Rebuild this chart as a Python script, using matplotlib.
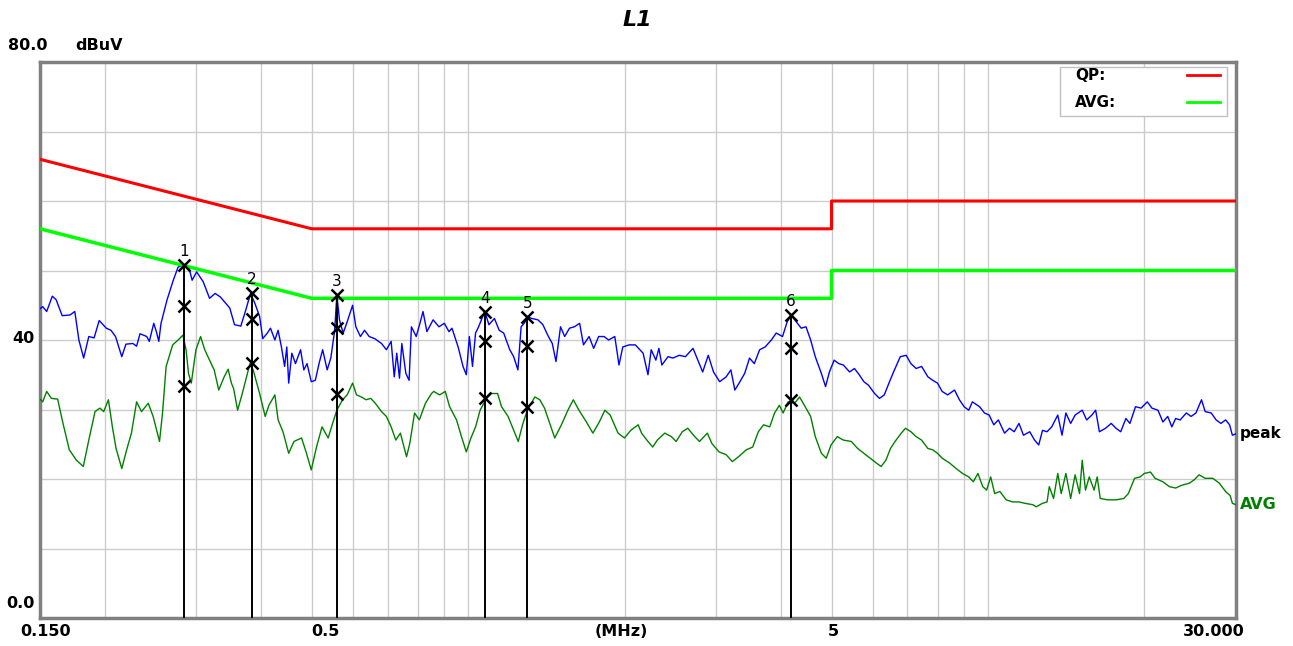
import matplotlib
matplotlib.use('Agg')
import matplotlib.pyplot as plt
from matplotlib.patches import Rectangle
from matplotlib.ticker import NullLocator

# peak trace (MHz, dBuV)
peak_freq = [0.150, 0.1518, 0.1545, 0.1584, 0.1611, 0.1655, 0.1713, 0.1750, 0.1782, 0.1820, 0.1862,
             0.1906, 0.1950, 0.2012, 0.2054, 0.2096, 0.2155, 0.2195, 0.2264, 0.2301, 0.2336,
             0.2407, 0.2434, 0.2483, 0.2512, 0.2539, 0.2564, 0.2634, 0.2707, 0.2766, 0.2845,
             0.2904, 0.2943, 0.3002, 0.3090, 0.3179, 0.3258, 0.3334, 0.3477, 0.3551, 0.3651,
             0.3725, 0.3813, 0.3885, 0.3968, 0.4024, 0.4107, 0.4164, 0.4246, 0.4307, 0.4371,
             0.4433, 0.4476, 0.4514, 0.4577, 0.4652, 0.4758, 0.4827, 0.4896, 0.4989, 0.5079,
             0.5163, 0.5247, 0.5353, 0.5440, 0.5534, 0.5588, 0.5652, 0.5746, 0.5848, 0.5991,
             0.6078, 0.6202, 0.6316, 0.6448, 0.6607, 0.6810, 0.6958, 0.7107, 0.7205, 0.7285,
             0.7374, 0.7451, 0.7585, 0.7695, 0.7774, 0.7941, 0.8074, 0.8184, 0.8327, 0.8558,
             0.8783, 0.8996, 0.9182, 0.9305, 0.9562, 0.9771, 0.9914, 1.005, 1.019, 1.033,
             1.047, 1.076, 1.096, 1.123, 1.147, 1.170, 1.202, 1.223, 1.246, 1.264,
             1.281, 1.304, 1.325, 1.362, 1.392, 1.422, 1.451, 1.475, 1.505, 1.533,
             1.566, 1.600, 1.638, 1.666, 1.708, 1.743, 1.782, 1.825, 1.862, 1.914,
             1.950, 1.983, 2.040, 2.096, 2.170, 2.217, 2.249, 2.296, 2.327, 2.358,
             2.423, 2.476, 2.547, 2.617, 2.707, 2.766, 2.825, 2.896, 2.964, 3.046,
             3.135, 3.201, 3.258, 3.320, 3.403, 3.477, 3.551, 3.636, 3.725, 3.830,
             3.913, 4.024, 4.107, 4.180, 4.278, 4.371, 4.465, 4.558, 4.652, 4.779,
             4.869, 4.953, 5.058, 5.163, 5.269, 5.416, 5.534, 5.652, 5.770, 5.888,
             6.051, 6.183, 6.316, 6.448, 6.581, 6.780, 6.958, 7.107, 7.273, 7.451,
             7.661, 7.828, 7.994, 8.161, 8.361, 8.622, 8.809, 8.996, 9.182, 9.332,
             9.633, 9.843, 10.05, 10.26, 10.47, 10.76, 11.00, 11.23, 11.47, 11.70,
             12.03, 12.29, 12.52, 12.73, 12.99, 13.26, 13.62, 13.88, 14.12, 14.42,
             14.71, 15.18, 15.48, 15.84, 16.11, 16.38, 16.83, 17.26, 17.63, 18.00,
             18.42, 18.75, 19.22, 19.70, 20.25, 20.67, 21.23, 21.70, 22.17, 22.58,
             22.96, 23.43, 24.07, 24.59, 25.12, 25.75, 26.17, 26.88, 27.47, 28.06,
             28.65, 29.16, 29.52, 30.0]
peak_level = [44.5, 44.8, 44.1, 46.3, 45.8, 43.5, 43.6, 44.1, 40.0, 37.4, 40.5,
              40.3, 42.8, 41.7, 41.4, 40.5, 37.6, 39.4, 39.5, 39.1, 40.9,
              40.5, 39.8, 42.4, 41.2, 39.8, 42.4, 45.8, 48.6, 50.5, 50.8,
              50.3, 48.6, 49.8, 48.4, 46.0, 46.7, 46.2, 44.6, 42.2, 42.0,
              44.1, 46.7, 45.3, 43.4, 40.2, 41.0, 41.7, 40.0, 41.4, 39.0,
              36.2, 39.0, 33.8, 38.1, 36.6, 38.6, 35.7, 36.6, 34.0, 34.2,
              36.6, 38.6, 35.7, 37.4, 41.4, 46.5, 42.9, 41.0, 42.6, 45.0,
              41.9, 40.5, 41.4, 40.5, 40.2, 39.5, 38.6, 39.8, 34.7, 38.1,
              34.5, 39.5, 35.2, 34.2, 41.9, 40.5, 42.4, 44.1, 41.2, 42.9,
              41.9, 42.4, 41.2, 41.7, 39.0, 36.2, 35.0, 40.5, 36.2, 41.0,
              41.9, 44.1, 42.2, 43.1, 41.4, 41.0, 38.6, 37.6, 35.7, 41.9,
              42.4, 43.3, 43.1, 42.9, 42.2, 40.7, 39.5, 36.9, 41.9, 40.5,
              41.7, 41.9, 42.4, 39.3, 40.5, 38.8, 40.5, 40.5, 40.0, 40.5,
              36.4, 39.0, 39.3, 39.3, 38.1, 35.0, 38.6, 37.1, 38.8, 36.4,
              37.6, 37.4, 37.8, 37.6, 38.8, 37.1, 35.4, 37.8, 35.4, 34.0,
              34.7, 35.7, 32.8, 33.8, 35.2, 37.4, 36.6, 38.6, 39.0, 40.0,
              41.0, 40.5, 42.6, 43.6, 42.6, 41.7, 41.9, 40.0, 37.6, 35.2,
              33.3, 35.4, 37.1, 36.6, 36.4, 35.4, 35.9, 35.0, 34.0, 33.5,
              32.3, 31.6, 32.1, 33.8, 35.4, 37.6, 37.8, 36.6, 35.9, 36.2,
              34.7, 34.2, 33.8, 32.6, 32.1, 32.8, 31.4, 30.4, 29.9, 31.1,
              30.4, 29.5, 29.2, 27.8, 28.5, 26.6, 27.3, 26.8, 28.0, 26.3,
              26.8, 25.6, 24.9, 27.0, 26.8, 27.5, 29.2, 26.3, 29.5, 28.0,
              29.2, 29.9, 28.5, 29.2, 29.9, 26.8, 27.3, 28.0, 27.3, 26.8,
              28.7, 28.0, 30.4, 30.2, 31.1, 30.2, 29.9, 28.2, 29.0, 27.5,
              28.7, 28.5, 29.5, 29.0, 29.5, 31.4, 29.7, 29.5, 28.5, 28.0,
              28.5, 27.8, 26.3, 26.5]

# average trace
avg_freq = [0.150, 0.1518, 0.1545, 0.1578, 0.1622, 0.1655, 0.1708, 0.1763, 0.1817, 0.1862,
            0.1914, 0.1956, 0.1989, 0.2031, 0.2067, 0.2101, 0.2155, 0.2202, 0.2249, 0.2301,
            0.2352, 0.2423, 0.2476, 0.2547, 0.2581, 0.2623, 0.2700, 0.2766, 0.2825, 0.2865,
            0.2896, 0.2932, 0.2993, 0.3055, 0.3112, 0.3179, 0.3245, 0.3311, 0.3392, 0.3452,
            0.3502, 0.3537, 0.3600, 0.3675, 0.3802, 0.3857, 0.3968, 0.4068, 0.4135, 0.4246,
            0.4307, 0.4401, 0.4514, 0.4620, 0.4779, 0.4884, 0.4989, 0.5106, 0.5232, 0.5376,
            0.5494, 0.5588, 0.5730, 0.5848, 0.5991, 0.6096, 0.6229, 0.6361, 0.6493, 0.6625,
            0.6810, 0.6958, 0.7107, 0.7255, 0.7404, 0.7608, 0.7718, 0.7884, 0.8051, 0.8274,
            0.8498, 0.8584, 0.8809, 0.9033, 0.9208, 0.9494, 0.9704, 0.9914, 1.012, 1.033,
            1.054, 1.084, 1.108, 1.139, 1.159, 1.193, 1.223, 1.248, 1.272, 1.299,
            1.343, 1.373, 1.402, 1.432, 1.467, 1.511, 1.555, 1.593, 1.633, 1.688,
            1.737, 1.787, 1.832, 1.875, 1.942, 1.998, 2.054, 2.123, 2.155, 2.217,
            2.264, 2.311, 2.388, 2.459, 2.512, 2.581, 2.645, 2.727, 2.786, 2.884,
            2.943, 3.037, 3.135, 3.222, 3.311, 3.428, 3.526, 3.615, 3.700, 3.802,
            3.885, 3.968, 4.035, 4.124, 4.246, 4.339, 4.433, 4.558, 4.652, 4.779,
            4.884, 4.989, 5.128, 5.269, 5.457, 5.612, 5.770, 5.928, 6.096, 6.229,
            6.361, 6.493, 6.625, 6.810, 6.937, 7.107, 7.273, 7.451, 7.661, 7.828,
            7.994, 8.161, 8.435, 8.686, 8.932, 9.182, 9.370, 9.562, 9.771, 9.938,
            10.12, 10.30, 10.54, 10.84, 11.15, 11.47, 11.78, 12.20, 12.38, 12.73,
            12.99, 13.12, 13.37, 13.62, 13.83, 14.12, 14.42, 14.71, 15.00, 15.18,
            15.40, 15.66, 16.00, 16.22, 16.44, 17.00, 17.63, 18.25, 18.62, 19.14,
            19.62, 19.98, 20.54, 20.96, 21.70, 22.33, 22.96, 23.58, 24.41, 24.94,
            25.47, 26.17, 27.07, 27.86, 28.65, 29.24, 29.52, 30.0]
avg_level = [31.5, 31.1, 32.6, 31.6, 31.5, 28.5, 24.2, 22.7, 21.8, 25.6,
             29.7, 30.2, 29.7, 31.4, 27.5, 24.4, 21.5, 24.2, 26.6, 31.1,
             29.7, 30.9, 29.0, 25.4, 29.5, 36.2, 39.3, 40.0, 40.7, 38.6,
             35.2, 33.8, 38.6, 40.5, 38.6, 37.1, 35.7, 32.8, 34.7, 35.8,
             33.8, 33.0, 29.9, 32.3, 36.6, 35.7, 32.3, 29.0, 30.6, 32.1,
             28.5, 26.8, 23.7, 25.4, 25.9, 23.7, 21.3, 24.6, 27.5, 25.9,
             28.2, 29.9, 31.4, 32.1, 33.8, 32.1, 31.8, 31.4, 31.6, 30.9,
             29.7, 29.0, 27.5, 25.6, 26.6, 23.2, 25.1, 29.5, 28.5, 30.9,
             32.3, 32.6, 32.1, 32.6, 30.4, 28.5, 26.1, 23.9, 25.9, 27.5,
             29.9, 31.6, 32.3, 32.3, 30.4, 29.0, 27.0, 25.4, 27.8, 29.9,
             31.8, 31.4, 30.2, 28.2, 25.9, 27.8, 29.9, 31.4, 29.9, 28.2,
             26.6, 28.2, 29.9, 29.2, 26.6, 25.9, 27.0, 27.8, 26.6, 25.4,
             24.6, 25.6, 26.6, 26.1, 25.4, 26.8, 27.3, 26.1, 25.4, 26.6,
             25.1, 23.9, 23.5, 22.5, 23.2, 24.2, 24.6, 26.8, 27.8, 27.5,
             29.5, 30.6, 29.5, 31.1, 30.9, 31.8, 30.6, 29.0, 26.1, 23.7,
             23.0, 24.9, 26.1, 25.6, 25.4, 24.4, 23.7, 23.0, 22.3, 21.8,
             22.7, 24.4, 25.4, 26.6, 27.3, 26.8, 26.1, 25.6, 24.4, 24.2,
             23.7, 23.0, 22.3, 21.5, 20.8, 20.3, 19.6, 20.8, 18.9, 18.4,
             20.3, 17.9, 18.2, 17.0, 16.7, 16.7, 16.5, 16.3, 16.0, 16.5,
             16.7, 18.9, 17.2, 20.8, 17.9, 20.8, 17.2, 20.6, 17.9, 22.7,
             18.4, 20.3, 18.4, 20.3, 17.2, 17.0, 17.0, 17.2, 17.9, 20.1,
             20.3, 20.8, 21.0, 20.1, 19.6, 18.9, 18.7, 19.1, 19.4, 19.9,
             20.6, 20.1, 20.1, 19.4, 18.2, 17.6, 16.5, 16.3]

# limit lines
limit_freq = [0.15, 0.5, 5.0, 5.0, 30.0]
qp_limit = [66, 56, 56, 60, 60]
avg_limit = [56, 46, 46, 50, 50]

# final measurement markers
mk_freq = [0.2845, 0.3830, 0.5588, 1.079, 1.299, 4.173]
mk_peak = [50.8, 46.7, 46.5, 44.1, 43.3, 43.6]
mk_qp = [44.9, 43.0, 41.7, 39.8, 39.1, 38.9]
mk_avg = [33.4, 36.7, 32.2, 31.6, 30.4, 31.3]
mk_labels = ['1', '2', '3', '4', '5', '6']

grid_freq = [0.2, 0.3, 0.4, 0.5, 0.6, 0.7, 0.8, 0.9, 1, 2, 3, 4, 5, 6, 7, 8, 9, 10, 20]

W, H = 1293, 646
fig = plt.figure(figsize=(W / 100, H / 100), dpi=100)
ax = fig.add_axes([40 / W, 28 / H, 1196 / W, 556 / H])
ax.set_xscale('log')
ax.set_xlim(0.15, 30)
ax.set_ylim(0, 80)
ax.set_xticks(grid_freq)
ax.xaxis.set_minor_locator(NullLocator())
ax.set_yticks(range(0, 81, 10))
ax.tick_params(which='both', length=0, labelbottom=False, labelleft=False)
ax.grid(True, color='#cccccc', lw=1.0)
ax.set_axisbelow(True)
for s in ax.spines.values():
    s.set_color('#808080')
    s.set_linewidth(2.5)

ax.plot(peak_freq, peak_level, color='#0000ff', lw=1.0, zorder=3)
ax.plot(avg_freq, avg_level, color='#008000', lw=1.0, zorder=3)
ax.plot(limit_freq, qp_limit, color='#ff0000', lw=2.2, zorder=3.5)
ax.plot(limit_freq, avg_limit, color='#00ff00', lw=2.5, zorder=3.5)

ax.vlines(mk_freq, 0, mk_peak, color='black', lw=1.4, zorder=4)
for lv in (mk_peak, mk_qp, mk_avg):
    ax.plot(mk_freq, lv, 'x', color='black', ms=9, mew=1.8, zorder=5)
for f, p, t in zip(mk_freq, mk_peak, mk_labels):
    ax.annotate(t, (f, p), xytext=(0, 6), textcoords='offset pixels',
                ha='center', va='bottom', fontsize=11, zorder=6)

ax.annotate('peak', (peak_freq[-1], peak_level[-1]), xytext=(4, 0), textcoords='offset pixels',
            ha='left', va='center', fontsize=11, fontweight='bold', annotation_clip=False)
ax.annotate('AVG', (avg_freq[-1], avg_level[-1]), xytext=(4, 0), textcoords='offset pixels',
            ha='left', va='center', fontsize=11.5, fontweight='bold', color='#008000',
            annotation_clip=False)

# legend box
ax.add_patch(Rectangle((0.853, 0.903), 0.1395, 0.088, transform=ax.transAxes,
                       facecolor='white', edgecolor='#c0c0c0', lw=1, zorder=6))
ax.text(0.8654, 0.9766, 'QP:', transform=ax.transAxes, va='center', ha='left',
        fontsize=11, fontweight='bold', zorder=7)
ax.text(0.8654, 0.928, 'AVG:', transform=ax.transAxes, va='center', ha='left',
        fontsize=11, fontweight='bold', zorder=7)
ax.plot([0.959, 0.9866], [0.9766, 0.9766], transform=ax.transAxes, color='#ff0000', lw=2, zorder=7)
ax.plot([0.959, 0.9866], [0.928, 0.928], transform=ax.transAxes, color='#00ff00', lw=2, zorder=7)

# outer labels
fig.text(637 / W, 1 - 20 / H, 'L1', ha='center', va='center', fontsize=16,
         fontweight='bold', fontstyle='italic')
fig.text(8 / W, 1 - 46 / H, '80.0', ha='left', va='center', fontsize=11.5, fontweight='bold')
fig.text(75 / W, 1 - 46 / H, 'dBuV', ha='left', va='center', fontsize=11.5, fontweight='bold')
fig.text(35 / W, 1 - 338 / H, '40', ha='right', va='center', fontsize=11.5, fontweight='bold')
fig.text(35 / W, 1 - 604 / H, '0.0', ha='right', va='center', fontsize=11.5, fontweight='bold')
for xp, t in [(46, '0.150'), (325, '0.5'), (621, '(MHz)'), (833, '5'), (1214, '30.000')]:
    fig.text(xp / W, 1 - 632 / H, t, ha='center', va='center', fontsize=11.5, fontweight='bold')

fig.savefig('out.png', dpi=100, facecolor='white')
